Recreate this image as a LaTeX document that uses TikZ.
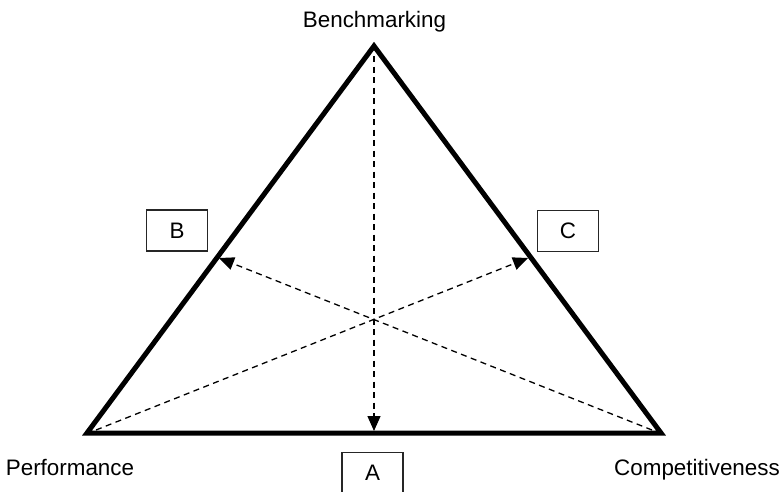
\documentclass[tikz,border=0pt]{standalone}
\usepackage{fontspec}
\setmainfont{Liberation Sans}
\usetikzlibrary{arrows.meta}
\begin{document}
\begin{tikzpicture}[x=1pt,y=-1pt,
  side/.style={line width=5pt,line join=miter},
  ray/.style={line width=1.3pt,dash pattern=on 6pt off 4.5pt,-{Triangle[length=15pt,width=13pt]}},
  lbl/.style={font=\fontsize{22.4}{26}\selectfont,anchor=base,inner sep=0pt},
  letterbox/.style={draw=black!85,line width=1.1pt,minimum width=61pt,minimum height=41pt,inner sep=0pt,font=\fontsize{22.4}{26}\selectfont}]
\useasboundingbox (0,0) rectangle (779,491);
\coordinate (T) at (374,46);
\coordinate (L) at (87,433);
\coordinate (R) at (661,433);
\coordinate (M) at (374,431);
\coordinate (PB) at (219,258);
\coordinate (PC) at (528,258);
\coordinate (Ts) at (374,56);
\coordinate (Ls) at (96,430);
\coordinate (Rs) at (652,430);
% rays
\draw[ray] (Ts) -- (M);
\draw[ray] (Ls) -- (PC);
\draw[ray] (Rs) -- (PB);
% triangle
\draw[side] (T) -- (L) -- (R) -- cycle;
% labels
\node[lbl] (bench) at (374.5,27) {Benchmarking};
\node[lbl] (perf) at (70,475) {Performance};
\node[lbl] (comp) at (697,475) {Competitiveness};
\node[letterbox] (B) at (177,230.5) {B};
\node[letterbox] (C) at (568,231) {C};
\node[letterbox] (A) at (372.5,473) {A};
\end{tikzpicture}
\end{document}
